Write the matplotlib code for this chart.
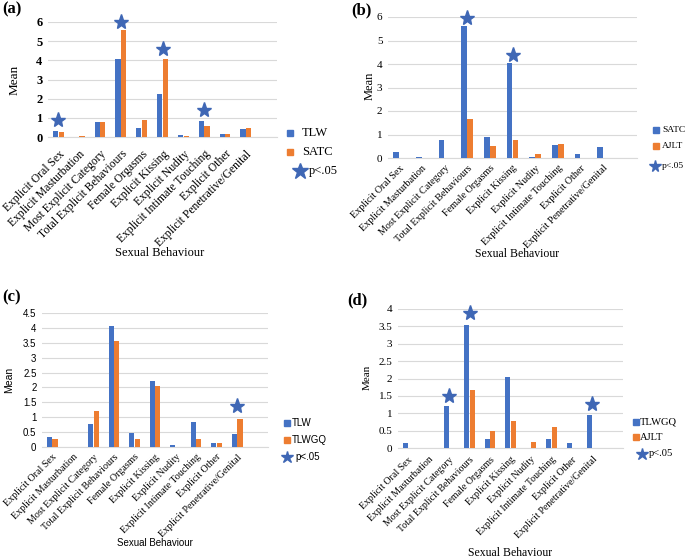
import matplotlib
matplotlib.use("Agg")
import matplotlib.pyplot as plt
from matplotlib.lines import Line2D
import numpy as np

categories = ["Explicit Oral Sex", "Explicit Masturbation", "Most Explicit Category",
              "Total Explicit Behaviours", "Female Orgasms", "Explicit Kissing",
              "Explicit Nudity", "Explicit Intimate Touching", "Explicit Other",
              "Explicit Penetrative/Genital"]

tlw = [0.33, 0.0, 0.77, 4.05, 0.47, 2.22, 0.08, 0.85, 0.15, 0.42]
satc = [0.27, 0.05, 0.77, 5.6, 0.9, 4.05, 0.05, 0.57, 0.15, 0.47]
tlwgq = [0.27, 0.0, 1.22, 3.55, 0.27, 2.05, 0.0, 0.27, 0.13, 0.95]
tlwgq_d = [0.13, 0.0, 1.22, 3.55, 0.27, 2.05, 0.0, 0.27, 0.13, 0.95]
ajlt = [0.0, 0.0, 0.0, 1.68, 0.5, 0.77, 0.17, 0.6, 0.0, 0.0]

stars_a = {0: 0.9, 3: 6.0, 5: 4.6, 7: 1.4}
stars_b = {3: 5.95, 5: 4.4}
stars_c = {9: 1.38}
stars_d = {2: 1.5, 3: 3.88, 9: 1.28}

BLUE = "#4472C4"
ORANGE = "#ED7D31"
STAR = "#3F67B5"
GRID = "#D9D9D9"
SERIF = "Liberation Serif"
SANS = "Liberation Sans"

W, H = 685, 558
fig = plt.figure(figsize=(W / 100, H / 100), dpi=100)


def rect(l, t, r, b):
    return [l / W, 1 - b / H, (r - l) / W, (b - t) / H]


def fx(x):
    return x / W


def fy(y):
    return 1 - y / H


def panel(px, s1, s2, names, stars, ymax, ystep, tickfont, ticksize, tickweight,
          catsize, catpad, leg, legfont, legsize, legstar, label, labpos,
          ylabpos, ylabsize, xlabpos, xlabsize, axfont):
    ax = fig.add_axes(rect(*px))
    x = np.arange(len(categories))
    w = 0.25
    ax.bar(x - w / 2 - 0.01, s1, w, color=BLUE, zorder=3)
    ax.bar(x + w / 2 + 0.01, s2, w, color=ORANGE, zorder=3)
    for i, y in stars.items():
        ax.plot(x[i], y, marker="*", color=STAR, markersize=11, clip_on=False, zorder=4)
    ax.set_xlim(-0.5, 10.5)
    ax.set_ylim(0, ymax)
    ticks = np.arange(0, ymax + 1e-9, ystep)
    ax.set_yticks(ticks)
    ax.set_yticklabels([f"{t:g}" for t in ticks], fontfamily=tickfont,
                       fontsize=ticksize, fontweight=tickweight)
    ax.yaxis.grid(True, color=GRID, linewidth=0.8, zorder=0)
    ax.set_axisbelow(True)
    for s in ["top", "right", "left"]:
        ax.spines[s].set_visible(False)
    ax.spines["bottom"].set_color(GRID)
    ax.tick_params(length=0, pad=4)
    ax.set_xticks(x)
    ax.set_xticklabels(categories, rotation=45, ha="right", rotation_mode="anchor",
                       fontfamily=SERIF, fontsize=catsize)
    ax.tick_params(axis="x", pad=catpad)
    # legend drawn manually in figure pixels
    (sqx, starx, textx_sq, textx_star, ys) = leg
    for col, name, y in zip([BLUE, ORANGE], names, ys[:2]):
        fig.add_artist(Line2D([fx(sqx)], [fy(y)], marker="s", color=col,
                              markersize=4.5, linestyle="", transform=fig.transFigure))
        fig.text(fx(textx_sq), fy(y), name, fontfamily=legfont, fontsize=legsize,
                 ha="left", va="center")
    fig.add_artist(Line2D([fx(starx)], [fy(ys[2])], marker="*", color=STAR,
                          markersize=legstar, linestyle="", transform=fig.transFigure))
    fig.text(fx(textx_star), fy(ys[2]), "p<.05", fontfamily=legfont, fontsize=legsize,
             ha="left", va="center")
    fig.text(fx(labpos[0]), fy(labpos[1]), label, fontfamily=SERIF,
             fontweight="bold", fontsize=12, ha="left", va="center")
    fig.text(fx(ylabpos[0]), fy(ylabpos[1]), "Mean", fontfamily=axfont,
             fontsize=ylabsize, rotation=90, ha="center", va="center")
    fig.text(fx(xlabpos[0]), fy(xlabpos[1]), "Sexual Behaviour", fontfamily=axfont,
             fontsize=xlabsize, ha="center", va="center")
    return ax


panel((48, 22, 277, 137), tlw, satc, ["TLW", "SATC"], stars_a, 6, 1,
      SERIF, 9, "bold", 8.4, 8,
      (290, 300, 302, 309, (133, 152, 171)), SERIF, 9, 12,
      "(a)", (2, 9), (15, 80), 9.5, (160, 253), 9, SERIF)
panel((388, 17, 637, 158), satc, ajlt, ["SATC", "AJLT"], stars_b, 6, 1,
      SERIF, 8, "normal", 7.3, 4,
      (656, 655, 662, 662, (130, 146, 166)), SERIF, 6.8, 8.5,
      "(b)", (351, 10), (370, 86), 9, (517, 254), 8.5, SERIF)
panel((42, 313, 268, 447), tlw, tlwgq, ["TLW", "TLWGQ"], stars_c, 4.5, 0.5,
      SANS, 7, "normal", 7.2, 4,
      (287, 287, 292, 295, (423, 440, 457)), SANS, 7, 9,
      "(c)", (2, 297), (9, 380), 7.5, (155, 543), 7, SANS)
panel((398, 309, 623, 448), tlwgq_d, ajlt, ["TLWGQ", "AJLT"], stars_d, 4, 0.5,
      SERIF, 8, "normal", 7.1, 5,
      (636, 642, 640, 649, (422, 437, 454)), SERIF, 7.6, 9,
      "(d)", (347, 300), (367, 377), 8, (510, 553), 8.5, SERIF)

fig.savefig("out.png", dpi=100)
